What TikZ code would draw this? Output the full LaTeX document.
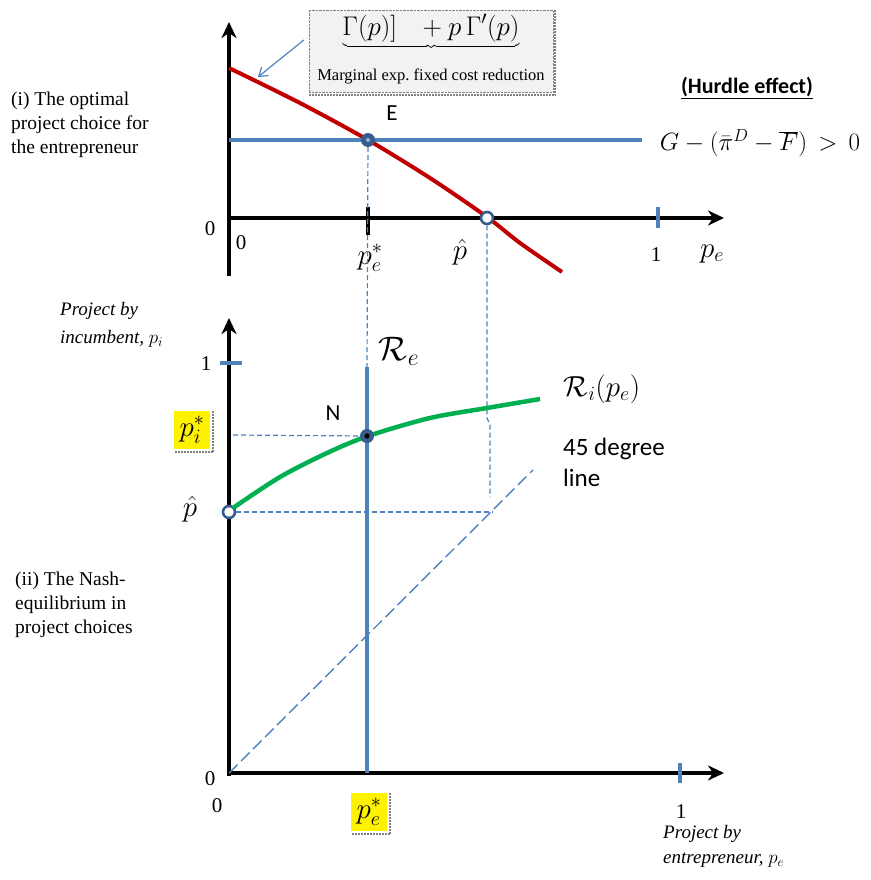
\RequirePackage{fix-cm}
\documentclass[tikz,border=0pt]{standalone}
\usepackage{fontspec}
\setmainfont{Liberation Serif}
\newfontfamily\calfont{Carlito}
\usetikzlibrary{positioning,arrows.meta}
\definecolor{lineblue}{HTML}{4F81BD}
\definecolor{dotblue}{HTML}{385D8A}
\definecolor{curvered}{HTML}{C00000}
\definecolor{curvegreen}{HTML}{00B050}
\definecolor{boxgray}{HTML}{F2F2F2}

\begin{document}
\begin{tikzpicture}[x=1pt,y=-1pt,
    axis/.style={line width=4.5pt,-{Stealth[length=16pt,width=15pt,inset=5pt]}},
    bluethick/.style={lineblue,line width=4pt},
    guide/.style={lineblue,line width=1.2pt,dash pattern=on 5pt off 3pt},
    ringdot/.style={circle,draw=dotblue,fill=white,line width=2.6pt,minimum size=12pt,inner sep=0pt},
    eqdot/.style={circle,fill=dotblue,minimum size=14pt,inner sep=0pt},
    hilite/.style={fill=yellow,inner sep=1.5pt,minimum width=36pt,minimum height=38pt},
    shade/.style={gray,densely dotted,line width=2pt},
    num/.style={font=\fontsize{21}{24}\selectfont},
    mathlbl/.style={font=\fontsize{29}{32}\selectfont},
    sanslbl/.style={font=\calfont\fontsize{23}{31}\selectfont},
    panel/.style={font=\fontsize{19.5}{24}\selectfont,align=left,anchor=north west,inner sep=0pt},
    axtitle/.style={font=\itshape\fontsize{19}{28}\selectfont,align=left,anchor=north west,inner sep=0pt}]
  \useasboundingbox (0,0) rectangle (870,880);

  % (i) upper panel
  \coordinate (o1) at (229,218);
  \coordinate (ytop1) at (229,22);
  \coordinate (ybot1) at (229,276);
  \coordinate (xend1) at (724,218);
  \draw[axis] (ybot1) -- (ytop1);
  \draw[axis] ([xshift=-2pt]o1) -- (xend1);
  \draw[curvered,line width=4pt] plot[smooth] coordinates
    {(229,68) (300,103) (368,140) (430,178) (487,217) (520,243) (562,272)};
  \coordinate (hstart) at (229,140);
  \coordinate (hend) at (642,140);
  \draw[bluethick] (hstart) -- (hend);
  \draw[black,line width=3.5pt] (368,207) -- (368,235);
  \draw[lineblue,line width=4pt] (658,207) -- (658,228);
  \node[eqdot] (E) at (368,140) {};
  \fill[lineblue!60] (E) circle (2pt);
  \node[ringdot] (phat) at (487,218) {};
  \node[sanslbl] (Elbl) at (392,113) {E};
  \node[num] (zeroA) at (210,229) {0};
  \node[num] (zeroB) at (241,243) {0};
  \node[mathlbl] (pestarA) at (370,258) {$p_e^*$};
  \node[mathlbl] (phatA) at (460,252) {$\hat{p}$};
  \node[num] (oneA) at (656,255) {1};
  \node[mathlbl] (peA) at (712,254) {$p_e$};
  \node[font=\fontsize{25}{28}\selectfont] (hurdle) at (760,143)
    {$G - (\bar{\pi}^D - \overline{F}) \,>\, 0$};
  \node[font=\calfont\bfseries\fontsize{22}{24}\selectfont] (hurdlehead) at (747,88)
    {\underline{(Hurdle effect)}};
  \node[panel] (paneli) at (11,92)
    {(i) The optimal\\project choice for\\the entrepreneur};

  % grey box with the marginal term
  \node[fill=boxgray,draw=gray,densely dotted,minimum width=244pt,minimum height=82pt] (gainbox) at (431,51) {};
  \draw[shade] ([xshift=2pt]gainbox.north east) -- ([xshift=2pt,yshift=-3pt]gainbox.south east)
    -- ([yshift=-3pt]gainbox.south west);
  \node[font=\fontsize{27}{30}\selectfont,below=1pt of gainbox.north] (gainterm)
    {$\underbrace{\Gamma(p)]\;\;\, + p\,\Gamma'(p)}$};
  \node[font=\fontsize{16.5}{18}\selectfont,above=5pt of gainbox.south] (gaintext)
    {Marginal exp.\ fixed cost reduction};
  \coordinate (redtip) at (258,77);
  \draw[lineblue,line width=1.2pt,-{Straight Barb[length=8pt,width=11pt]}]
    ([xshift=-5pt,yshift=11pt]gainbox.west) -- (redtip);

  % guides between the panels
  \coordinate (Retop) at (367,367);
  \coordinate (bend1) at (487,418);
  \coordinate (bend2) at (490,425);
  \coordinate (bend3) at (490,497);
  \draw[guide] (E) -- (Retop);
  \draw[guide] (phat) -- (bend1) -- (bend2) -- (bend3);

  % (ii) lower panel
  \coordinate (o2) at (229,773);
  \coordinate (ytop2) at (229,318);
  \coordinate (xend2) at (724,773);
  \draw[axis] ([yshift=-3pt]o2) -- (ytop2);
  \draw[axis] ([xshift=-2pt]o2) -- (xend2);
  \draw[lineblue,line width=4pt] (220,363) -- (242,363);
  \draw[lineblue,line width=4pt] (680,763) -- (680,783);
  \coordinate (diagend) at (533,470);
  \draw[lineblue,line width=1.4pt,dash pattern=on 12pt off 5pt] (o2) -- (diagend);
  \coordinate (Rebot) at (367,773);
  \draw[bluethick] (Retop) -- (Rebot);
  \coordinate (hatend) at (493,512);
  \coordinate (pistarpt) at (233,435);
  \node[ringdot] (phatB) at (229,512) {};
  \draw[guide] (phatB) -- (hatend);
  \draw[curvegreen,line width=4.5pt] plot[smooth] coordinates
    {(233,508) (280,477) (327,453) (368,436) (430,418) (487,408) (540,399)};
  \node[eqdot] (N) at (367,436) {};
  \fill[black] (N) circle (2.6pt);
  \draw[guide] (pistarpt) -- (N);
  \node[sanslbl] (Nlbl) at (333,413) {N};
  \node[font=\fontsize{34}{36}\selectfont] (Relbl) at (399,351) {$\mathcal{R}_e$};
  \node[mathlbl] (Rilbl) at (602,389) {$\mathcal{R}_i(p_e)$};
  \node[sanslbl,font=\calfont\fontsize{25}{31}\selectfont,align=left,anchor=north west,inner sep=0pt]
    (deglbl) at (563,438) {45 degree\\line};
  \node[mathlbl] (phatlbl) at (190,509) {$\hat{p}$};
  \node[num] (oneB) at (206,364) {1};
  \node[num] (zeroC) at (210,779) {0};
  \node[num] (zeroD) at (217,806) {0};
  \node[num] (oneC) at (681,812) {1};
  \node[hilite,mathlbl] (pistar) at (192,430) {$p_i^*$};
  \draw[shade] ([xshift=3pt]pistar.north east) -- ([xshift=3pt,yshift=-3pt]pistar.south east)
    -- ([yshift=-3pt]pistar.south west);
  \node[hilite,mathlbl] (pestarB) at (369,812) {$p_e^*$};
  \draw[shade] ([xshift=3pt]pestarB.north east) -- ([xshift=3pt,yshift=-3pt]pestarB.south east)
    -- ([yshift=-3pt]pestarB.south west);
  \node[axtitle] (ytitle) at (60,302) {Project by\\incumbent, $p_i$};
  \node[axtitle,font=\itshape\fontsize{19}{25}\selectfont] (xtitle) at (663,825) {Project by\\entrepreneur, $p_e$};
  \node[panel] (panelii) at (15,572)
    {(ii) The Nash-\\equilibrium in\\project choices};
\end{tikzpicture}
\end{document}
